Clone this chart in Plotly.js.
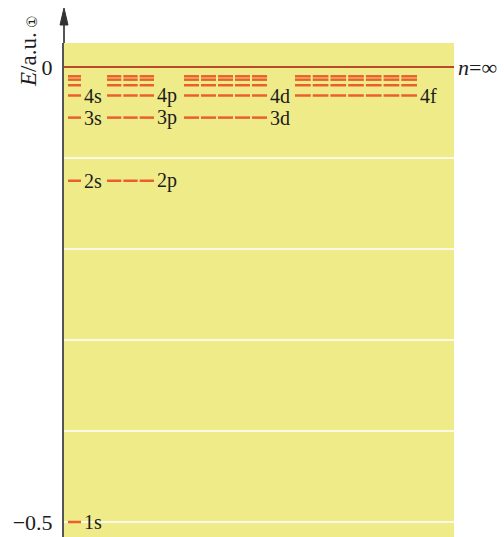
<!DOCTYPE html>
<html>
<head>
<meta charset="utf-8">
<script src="https://cdn.plot.ly/plotly-3.0.1.min.js"></script>
<style>html,body{margin:0;padding:0;background:#fff;}#chart{width:504px;height:537px;}</style>
</head>
<body>
<div id="chart"></div>
<script>
// ---- data ----
const shells = [1, 2, 3, 4, 5, 6, 7];                       // principal quantum number n
const levelEnergy = [-0.5, -0.125, -0.0556, -0.0313, -0.02, -0.0139, -0.0102]; // E (a.u.)
const subshells = ['s', 'p', 'd', 'f'];
const orbitalCount = [1, 3, 5, 7];                         // orbitals per subshell
const firstShell = [1, 2, 3, 4];                           // lowest n for each subshell
const labelledShells = [1, 2, 3, 4];                       // levels carrying a text label
const limitEnergy = 0;                                     // n = ∞
const yTickVals = [0, -0.1, -0.2, -0.3, -0.4, -0.5];
const yTickText = ['0', '', '', '', '', '\u22120.5'];

// ---- layout constants (pixel offsets from the axis) ----
const colStart = [3, 42, 119, 230];
const colEnd = [18, 91, 204, 354];
const W = 504, H = 537, ML = 64, MR = 50, MT = 43, MB = 0;
const plotW = W - ML - MR, plotH = H - MT - MB;
const yRange = [-0.5165, 0.0264];

const LEVEL = '#E9602E';
const serif = 'Liberation Serif, Times New Roman, serif';
const TXT = '#1c1c1c';

const xs = [], ys = [];
const annotations = [];
subshells.forEach((l, i) => {
  const segW = (colEnd[i] - colStart[i]) / orbitalCount[i];
  shells.forEach((n, k) => {
    if (n < firstShell[i]) return;
    const e = levelEnergy[k];
    for (let m = 0; m < orbitalCount[i]; m++) {
      xs.push(colStart[i] + m * segW + 1, colStart[i] + (m + 1) * segW - 1, null);
      ys.push(e, e, null);
    }
    if (labelledShells.includes(n)) {
      annotations.push({
        x: colEnd[i] + 1, y: e, xref: 'x', yref: 'y', xanchor: 'left', yanchor: 'middle',
        text: n + l, showarrow: false, borderpad: 0, font: {family: serif, size: 20, color: TXT}
      });
    }
  });
});

const traces = [
  {x: xs, y: ys, mode: 'lines', line: {color: LEVEL, width: 2.5}, hoverinfo: 'skip', showlegend: false},
  {x: [0, plotW], y: [limitEnergy, limitEnergy], mode: 'lines', line: {color: '#B84A2A', width: 2},
   hoverinfo: 'skip', showlegend: false}
];

annotations.push({
  x: 1, y: limitEnergy, xref: 'paper', yref: 'y', xanchor: 'left', yanchor: 'middle', xshift: 2,
  text: '<i>n</i>=\u221e', showarrow: false, font: {family: serif, size: 22, color: TXT}
});
annotations.push({
  x: -36 / plotW, y: (H - 60) / plotH, xref: 'paper', yref: 'paper', xanchor: 'center', yanchor: 'middle',
  text: '<i>E</i>/a.u.', textangle: -90, showarrow: false, font: {family: serif, size: 23, color: TXT}
});
annotations.push({
  x: -32 / plotW, y: (H - 22) / plotH, xref: 'paper', yref: 'paper', xanchor: 'center', yanchor: 'middle',
  text: '\u2460', textangle: -90, showarrow: false, font: {family: 'DejaVu Sans, sans-serif', size: 14, color: TXT}
});

const py = px => (H - px) / plotH;       // page pixel -> paper y
const pxX = px => px / plotW;            // pixel offset -> paper x
const shapes = [
  {type: 'line', xref: 'paper', yref: 'paper', x0: 0, x1: 0, y0: 1, y1: py(18),
   line: {color: '#555', width: 2}},
  {type: 'path', xref: 'paper', yref: 'paper',
   path: `M 0 ${py(8)} L ${pxX(-4)} ${py(25)} L ${pxX(4)} ${py(25)} Z`,
   fillcolor: '#333', line: {color: '#333', width: 1}}
];

const layout = {
  width: W, height: H,
  margin: {l: ML, r: MR, t: MT, b: MB, pad: 0},
  paper_bgcolor: '#ffffff', plot_bgcolor: '#EEEB88',
  xaxis: {range: [0, plotW], visible: false, fixedrange: true},
  yaxis: {range: yRange, tickvals: yTickVals, ticktext: yTickText, showgrid: true,
          gridcolor: '#FBF9E6', gridwidth: 2, zeroline: false, showline: true,
          linecolor: '#555', linewidth: 2, ticks: '', ticklabelstandoff: 5,
          tickfont: {family: serif, size: 22, color: TXT}, fixedrange: true},
  annotations: annotations,
  shapes: shapes,
  showlegend: false
};

Plotly.newPlot('chart', traces, layout, {displayModeBar: false, staticPlot: true});
</script>
</body>
</html>
